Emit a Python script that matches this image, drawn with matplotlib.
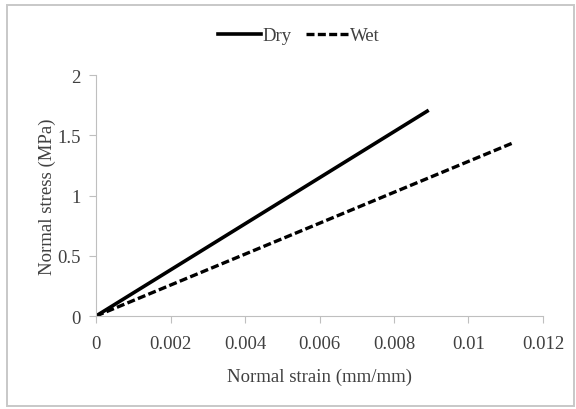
import matplotlib
matplotlib.use("Agg")
import matplotlib.pyplot as plt
from matplotlib.patches import Rectangle

plt.rcParams['font.family'] = ['Liberation Serif', 'DejaVu Serif']

strain_dry = [0.0, 0.00889]
stress_dry = [0.0, 1.70]
strain_wet = [0.0, 0.01122]
stress_wet = [0.0, 1.44]
x_ticks = [0, 0.002, 0.004, 0.006, 0.008, 0.01, 0.012]
x_labels = ['0', '0.002', '0.004', '0.006', '0.008', '0.01', '0.012']
y_ticks = [0, 0.5, 1, 1.5, 2]
y_labels = ['0', '0.5', '1', '1.5', '2']

fig = plt.figure(figsize=(5.76, 4.10), dpi=100)
fig.patches.append(Rectangle((0.012, 0.008), 0.984, 0.978, transform=fig.transFigure,
                             fill=False, edgecolor='#c8c8c8', linewidth=1.4))
ax = fig.add_axes([0.1667, 0.2268, 0.776, 0.5878])

ax.plot(strain_dry, stress_dry, color='black', linewidth=2.6, label='Dry')
ax.plot(strain_wet, stress_wet, color='black', linewidth=2.4, linestyle=(0, (2.4, 1.0)), label='Wet')

ax.set_xlim(0, 0.012)
ax.set_ylim(0, 2)
ax.set_xticks(x_ticks)
ax.set_xticklabels(x_labels)
ax.set_yticks(y_ticks)
ax.set_yticklabels(y_labels)
for s in ['top', 'right']:
    ax.spines[s].set_visible(False)
for s in ['left', 'bottom']:
    ax.spines[s].set_color('#bfbfbf')
ax.tick_params(axis='x', direction='out', length=5, color='#bfbfbf', labelsize=13.5, labelcolor='#404040', pad=9)
ax.tick_params(axis='y', direction='out', length=5, color='#bfbfbf', labelsize=13.5, labelcolor='#404040', pad=6)
ax.set_xlabel('Normal strain (mm/mm)', fontsize=13.5, color='#404040', labelpad=11)
ax.set_ylabel('Normal stress (MPa)', fontsize=13.5, color='#404040', labelpad=1)

ax.legend(loc='center', bbox_to_anchor=(0.519, 0.91), bbox_transform=fig.transFigure,
          ncol=2, frameon=False, fontsize=13.5, handlelength=2.3, handletextpad=0.05,
          columnspacing=0.8, labelcolor='#404040')

fig.savefig('out.png', dpi=100)
